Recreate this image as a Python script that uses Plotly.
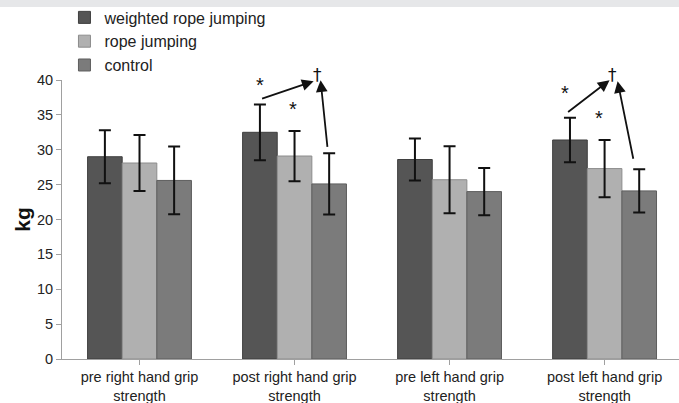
import plotly.graph_objects as go

categories = ["pre right hand grip<br>strength", "post right hand grip<br>strength",
              "pre left hand grip<br>strength", "post left hand grip<br>strength"]
series_names = ["weighted rope jumping", "rope jumping", "control"]
weighted = [29.0, 32.5, 28.6, 31.4]
weighted_err = [3.8, 4.0, 3.0, 3.2]
rope = [28.1, 29.1, 25.7, 27.3]
rope_err = [4.0, 3.6, 4.8, 4.1]
control = [25.6, 25.1, 24.0, 24.1]
control_err = [4.85, 4.4, 3.4, 3.1]
y_ticks = [0, 5, 10, 15, 20, 25, 30, 35, 40]

colors = ["#555555", "#b0b0b0", "#7b7b7b"]
edge = ["#3f3f3f", "#8c8c8c", "#5e5e5e"]

Y_MAX = 40

fig = go.Figure()
for name, vals, errs, c, e in zip(series_names, [weighted, rope, control],
                                  [weighted_err, rope_err, control_err], colors, edge):
    fig.add_trace(go.Bar(
        x=list(range(len(categories))), y=vals, name=name,
        marker=dict(color=c, line=dict(color=e, width=1)),
        error_y=dict(type="data", array=errs, color="#111111", thickness=2, width=6),
    ))

# significance markers (x in category index units, y in kg)
star_pts = [(0.774, 39.3), (0.987, 35.9), (2.742, 38.1), (2.961, 34.5)]
dagger_pts = [(1.148, 42.4), (3.052, 42.4)]
arrows = [((0.781, 37.25), (1.123, 39.83)), ((1.213, 30.2), (1.168, 39.97)),
          ((2.755, 35.24), (3.032, 39.97)), ((3.187, 28.5), (3.084, 39.83))]

for (x, y) in star_pts:
    fig.add_annotation(x=x, y=y, xref="x", yref="y", text="*", showarrow=False,
                       font=dict(size=20, color="#111111", family="Liberation Sans, Arial"))
for (x, y) in dagger_pts:
    fig.add_annotation(x=x, y=y / Y_MAX, xref="x", yref="paper", text="†", showarrow=False,
                       font=dict(size=17, color="#111111", family="DejaVu Sans"))
for (tail, tip) in arrows:
    fig.add_annotation(x=tip[0], y=tip[1], ax=tail[0], ay=tail[1], xref="x", yref="y",
                       axref="x", ayref="y", text="", showarrow=True, arrowhead=2,
                       arrowsize=1.3, arrowwidth=1.8, arrowcolor="#111111", standoff=0)

fig.add_shape(type="rect", xref="paper", yref="paper", x0=-0.3, x1=1.3, y0=1.262, y1=1.6,
              fillcolor="#e6e7e9", line=dict(width=0), layer="above")

fig.update_layout(
    width=679, height=403,
    margin=dict(l=62, r=0, t=80, b=44, autoexpand=False),
    paper_bgcolor="white", plot_bgcolor="white",
    barmode="group", bargap=0.33, bargroupgap=0,
    font=dict(family="Liberation Sans, Arial", size=14.5, color="#222222"),
    showlegend=True,
    legend=dict(x=0.004, y=1.285, xanchor="left", yanchor="top",
                bgcolor="rgba(0,0,0,0)", font=dict(size=16, color="#222222"),
                tracegroupgap=0, itemwidth=30),
    xaxis=dict(range=[-0.5, 3.48], tickmode="array", tickvals=list(range(4)),
               ticktext=categories, showline=True, linecolor="#a0a0a0", linewidth=1,
               ticks="outside", ticklen=5, tickcolor="#a0a0a0", showgrid=False,
               zeroline=False, tickfont=dict(size=14.5, color="#222222")),
    yaxis=dict(range=[0, Y_MAX], tickvals=y_ticks, showline=True, linecolor="#a0a0a0",
               linewidth=1, ticks="outside", ticklen=5, tickcolor="#a0a0a0",
               showgrid=False, zeroline=False, tickfont=dict(size=14.5, color="#222222"),
               title=dict(text="<b>kg</b>", font=dict(size=21, color="#111111"), standoff=0)),
)

fig.write_html("out.html", config={"displayModeBar": False},
               post_script="document.body.style.margin='0px';document.body.style.padding='0px';")
